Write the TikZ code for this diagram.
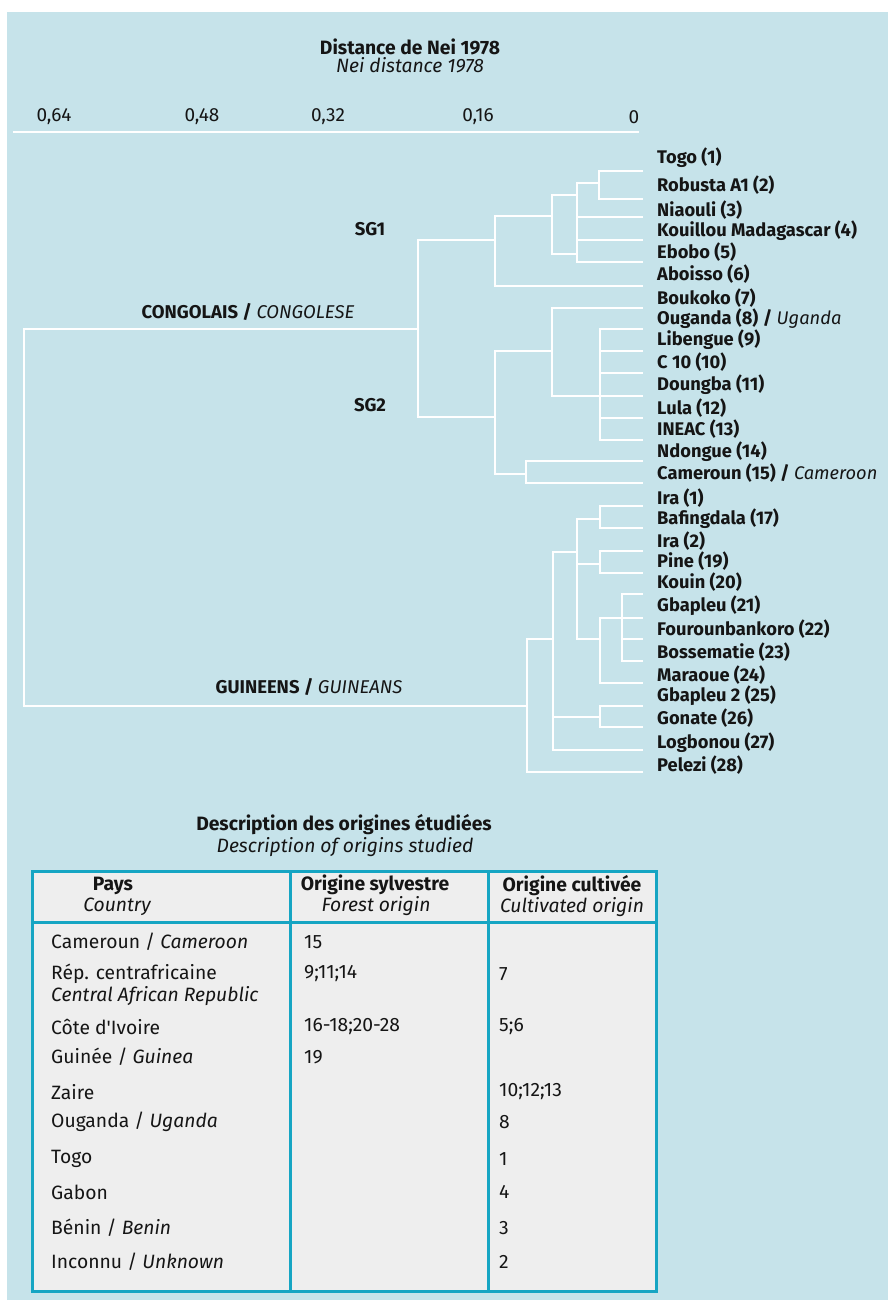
\documentclass[tikz,border=0pt]{standalone}
\usepackage{fontspec}
\setmainfont{Fira Sans}
\usepackage{tikz}
\usetikzlibrary{positioning}
\definecolor{bg}{HTML}{C6E3EA}
\definecolor{cell}{HTML}{EEEEEE}
\definecolor{rule}{HTML}{16A5C3}
\definecolor{ink}{HTML}{151515}
\tikzset{
  br/.style={draw=white, line width=2pt, line join=miter},
  leaf/.style={anchor=west, inner sep=0pt, text=ink, font=\fontsize{18.3}{18}\selectfont\bfseries},
  grp/.style={inner sep=0pt, text=ink, font=\fontsize{18.5}{18}\selectfont\bfseries},
  tick/.style={inner sep=0pt, text=ink, font=\fontsize{19}{19}\selectfont},
  ttl/.style={inner sep=0pt, text=ink, font=\fontsize{19.3}{19}\selectfont\bfseries},
  sub/.style={inner sep=0pt, text=ink, font=\fontsize{19.3}{19}\selectfont\itshape},
  cellt/.style={anchor=west, inner sep=0pt, text=ink, font=\fontsize{19.3}{19}\selectfont},
  grid/.style={draw=rule, line width=3pt},
}

\begin{document}
\begin{tikzpicture}[x=1pt, y=-1pt]
\useasboundingbox (0,0) rectangle (888,1309);
\fill[bg] (7,12) rectangle (888,1300);

% scale
\node[ttl] (ttl) at (410,47) {Distance de Nei 1978};
\node[sub] (ttlen) at (410,65) {Nei distance 1978};
\foreach \x/\t in {54/{0,64},202/{0,48},328/{0,32},478/{0,16},634/0}{
  \node[tick] at (\x,117) {\t};
}
\draw[br] (13,132) -- (639,132);

% leaf labels
\foreach \y/\t [count=\i] in {158/{Togo (1)},185/{Robusta A1 (2)},210/{Niaouli (3)},
  231/{Kouillou Madagascar (4)},252/{Ebobo (5)},274/{Aboisso (6)},298/{Boukoko (7)},
  319/{Ouganda (8) / {\mdseries\itshape Uganda}},340/{Libengue (9)},362/{C 10 (10)},
  385/{Doungba (11)},408/{Lula (12)},429/{INEAC (13)},452/{Ndongue (14)},
  473/{Cameroun (15) / {\mdseries\itshape Cameroon}},498/{Ira (1)},519/{Bafingdala (17)},
  541/{Ira (2)},561/{Pine (19)},582/{Kouin (20)},606/{Gbapleu (21)},
  629/{Fourounbankoro (22)},652/{Bossematie (23)},675/{Maraoue (24)},
  696/{Gbapleu 2 (25)},718/{Gonate (26)},743/{Logbonou (27)},765/{Pelezi (28)}}{
  \node[leaf] (l\i) at (657,\y) {\t};
}

% group labels
\node[grp] (sg1) at (370,229) {SG1};
\node[grp] (sg2) at (370,405) {SG2};
\node[grp] (congo) at (248,312) {CONGOLAIS / {\mdseries\itshape CONGOLESE}};
\node[grp] (guin) at (309,687) {GUINEENS / {\mdseries\itshape GUINEANS}};

% congolais SG1
\draw[br] (643,171) -| (599.3,199) -- (643,199);
\draw[br] (599.3,183.3) -| (576.7,261.7) -- (643,261.7);
\foreach \y in {217.3,240}{\draw[br] (576.7,\y) -- (643,\y);}
\draw[br] (576.7,195) -| (552,254.3) -- (576.7,254.3);
\draw[br] (552,216) -| (495,286) -- (643,286);
\draw[br] (495,240) -| (418.3,417.3) -- (495,417.3);
% root
\draw[br] (418.3,329.3) -| (24,706) -- (526.7,706);
% congolais SG2
\draw[br] (643,308.3) -| (552,395.7) -- (600,395.7);
\draw[br] (643,329.3) -| (600,440) -- (643,440);
\foreach \y in {351,373.3,395.7,417.7}{\draw[br] (600,\y) -- (643,\y);}
\draw[br] (552,351) -| (495,474.3) -- (525.7,474.3);
\draw[br] (643,461) -| (525.7,483.3) -- (643,483.3);
% guineens
\draw[br] (552.7,639.3) -| (526.7,771.7) -- (643,771.7);
\draw[br] (577.3,551.7) -| (552.7,750) -- (643,750);
\draw[br] (552.7,717.3) -- (600,717.3);
\draw[br] (643,705.7) -| (600,726.7) -- (643,726.7);
\draw[br] (600,519.3) -| (577.3,639.3) -- (600,639.3);
\draw[br] (577.3,564) -- (600,564);
\draw[br] (643,506) -| (600,528.3) -- (643,528.3);
\draw[br] (643,550.7) -| (600,572.7) -- (643,572.7);
\draw[br] (621.7,618.3) -| (600,683.3) -- (643,683.3);
\draw[br] (643,594.3) -| (621.7,661) -- (643,661);
\foreach \y in {618.3,639.3}{\draw[br] (621.7,\y) -- (643,\y);}

% table
\node[ttl] (tabttl) at (344,825) {Description des origines étudiées};
\node[sub] (tabsub) at (345,847) {Description of origins studied};
\fill[cell] (32,871) rectangle (656,1291);
\draw[grid] (32,871) rectangle (656,1291);
\draw[grid] (32,922) -- (656,922);
\draw[grid] (290,871) -- (290,1291);
\draw[grid] (488,871) -- (488,1291);
\node[ttl] (h1) at (113,886) {Pays};
\node[sub] (h1en) at (117,907) {Country};
\node[ttl] (h2) at (375,885) {Origine sylvestre};
\node[sub] (h2en) at (376,906) {Forest origin};
\node[ttl] (h3) at (572,886) {Origine cultivée};
\node[sub] (h3en) at (572,907) {Cultivated origin};

\foreach \y/\c/\f/\v [count=\i] in {
  942/{Cameroun / \textit{Cameroon}}/15/{},
  974/{Rép. centrafricaine}/{9;11;14}/7,
  996/{\textit{Central African Republic}}/{}/{},
  1027/{Côte d\textquotesingle Ivoire}/{16-18;20-28}/{5;6},
  1057/{Guinée / \textit{Guinea}}/19/{},
  1092/Zaire/{}/{10;12;13},
  1122/{Ouganda / \textit{Uganda}}/{}/8,
  1159/Togo/{}/1,
  1192/Gabon/{}/4,
  1228/{Bénin / \textit{Benin}}/{}/3,
  1262/{Inconnu / \textit{Unknown}}/{}/2}{
  \node[cellt] (c\i) at (51,\y) {\c};
  \node[cellt] (f\i) at (304,\y) {\f};
  \node[cellt] (v\i) at (499,\y) {\v};
}
\end{tikzpicture}
\end{document}
